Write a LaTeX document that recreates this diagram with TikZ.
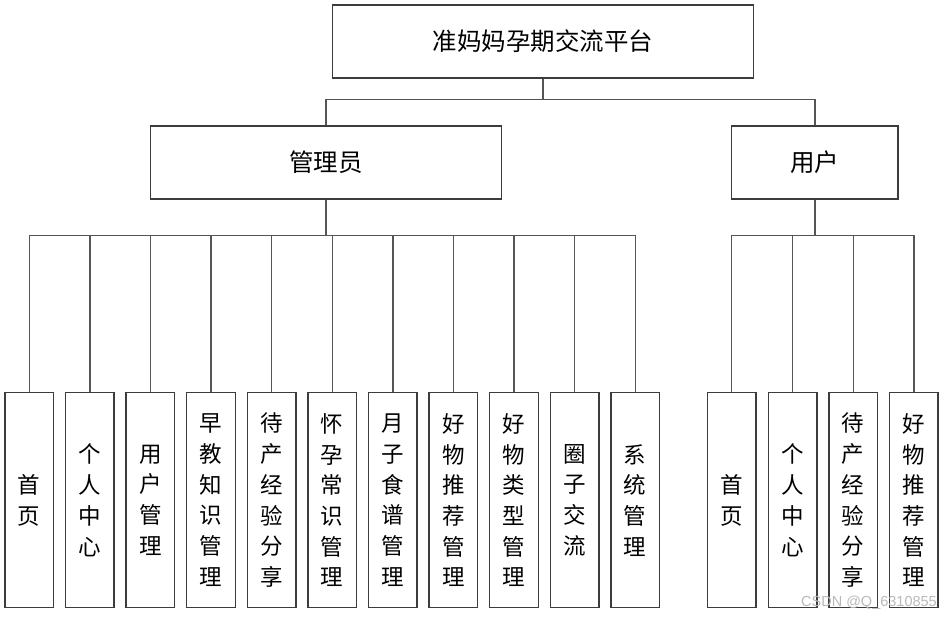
\documentclass[tikz,border=0pt]{standalone}
\usepackage{fontspec}
\newfontfamily\cjk{Noto Sans CJK SC}
\setmainfont{Liberation Sans}
\definecolor{linegray}{RGB}{85,85,85}
\definecolor{boxgray}{RGB}{60,60,60}
\begin{document}
\begin{tikzpicture}[x=1pt,y=-1pt,
  box/.style={draw=boxgray,line width=1.4pt,rectangle,inner sep=0pt,fill=white},
  bigbox/.style={box,font=\cjk\fontsize{24.5}{28}\selectfont},
  leaf/.style={box,minimum width=48.5pt,minimum height=215pt,align=center,
    font=\cjk\fontsize{22.5}{30.7}\selectfont},
  conn/.style={draw=linegray,line width=1.4pt}]
\useasboundingbox (0,0) rectangle (952,621);
% top
\node[bigbox,minimum width=421pt,minimum height=73pt] (top) at (542.8,41.5) {准妈妈孕期交流平台};
\node[bigbox,minimum width=351pt,minimum height=73pt] (admin) at (325.8,162.5) {管理员};
\node[bigbox,minimum width=166.3pt,minimum height=73pt] (user) at (814.9,162.5) {用户};
% admin leaves
\node[leaf] (a1) at (29.2,500.2) {首\\页};
\node[leaf] (a2) at (89.8,500.2) {个\\人\\中\\心};
\node[leaf] (a3) at (150.4,500.2) {用\\户\\管\\理};
\node[leaf] (a4) at (211.0,500.2) {早\\教\\知\\识\\管\\理};
\node[leaf] (a5) at (271.6,500.2) {待\\产\\经\\验\\分\\享};
\node[leaf] (a6) at (332.2,500.2) {怀\\孕\\常\\识\\管\\理};
\node[leaf] (a7) at (392.8,500.2) {月\\子\\食\\谱\\管\\理};
\node[leaf] (a8) at (453.4,500.2) {好\\物\\推\\荐\\管\\理};
\node[leaf] (a9) at (514.0,500.2) {好\\物\\类\\型\\管\\理};
\node[leaf] (a10) at (574.6,500.2) {圈\\子\\交\\流};
\node[leaf] (a11) at (635.2,500.2) {系\\统\\管\\理};
% user leaves
\node[leaf] (u1) at (731.7,500.2) {首\\页};
\node[leaf] (u2) at (792.7,500.2) {个\\人\\中\\心};
\node[leaf] (u3) at (853.2,500.2) {待\\产\\经\\验\\分\\享};
\node[leaf] (u4) at (913.8,500.2) {好\\物\\推\\荐\\管\\理};
% buses
\coordinate (busT) at (542.8,99.5);
\coordinate (busA) at (325.8,235.3);
\coordinate (busU) at (814.9,235.3);
\draw[conn] (top.south) -- (busT);
\draw[conn] (admin.north) |- (busT) -| (user.north);
\draw[conn] (admin.south) -- (busA);
\draw[conn] (user.south) -- (busU);
\foreach \n in {a1,a2,a3,a4,a5,a6,a7,a8,a9,a10,a11}{
  \draw[conn] (\n.north) |- (busA);
}
\foreach \n in {u1,u2,u3,u4}{
  \draw[conn] (\n.north) |- (busU);
}
\node[text=gray!55,font=\fontsize{14.5}{16}\selectfont,anchor=east,inner sep=0pt] (wm) at (937,603) {CSDN @Q\_6310855};
\end{tikzpicture}
\end{document}
